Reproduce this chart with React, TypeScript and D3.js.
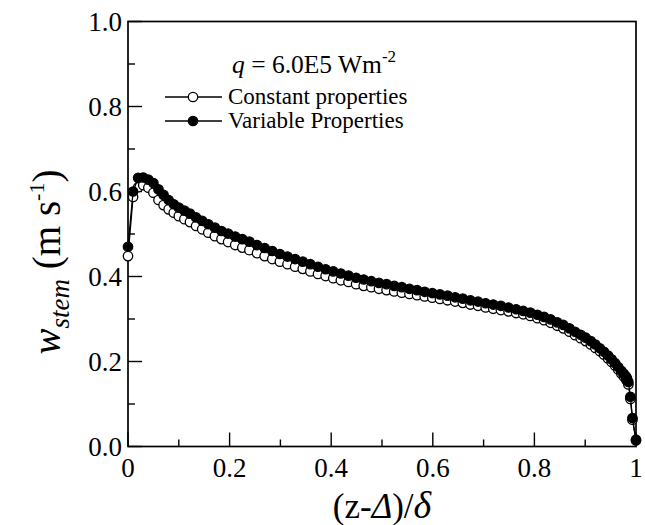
import React from "react";
import * as d3 from "d3";

// Constant properties series: [ (z-Δ)/δ , w_stem ]
const constantProps: [number, number][] = [
  [0, 0.448], [0.01, 0.587], [0.02, 0.61], [0.03, 0.615], [0.04, 0.609], [0.05, 0.597],
  [0.06, 0.58], [0.07, 0.568], [0.08, 0.558], [0.09, 0.55], [0.1, 0.542], [0.111, 0.535],
  [0.122, 0.528], [0.134, 0.519], [0.146, 0.511], [0.158, 0.503], [0.171, 0.495], [0.184, 0.488],
  [0.197, 0.481], [0.211, 0.474], [0.225, 0.468], [0.239, 0.462], [0.254, 0.455], [0.269, 0.448],
  [0.284, 0.441], [0.299, 0.435], [0.314, 0.429], [0.329, 0.423], [0.344, 0.418], [0.359, 0.412],
  [0.374, 0.406], [0.389, 0.401], [0.404, 0.396], [0.419, 0.391], [0.434, 0.387], [0.449, 0.382],
  [0.464, 0.378], [0.479, 0.375], [0.494, 0.371], [0.509, 0.368], [0.524, 0.365], [0.539, 0.362],
  [0.554, 0.359], [0.569, 0.356], [0.584, 0.353], [0.599, 0.35], [0.614, 0.347], [0.629, 0.344],
  [0.644, 0.341], [0.659, 0.338], [0.674, 0.334], [0.689, 0.331], [0.704, 0.327], [0.719, 0.324],
  [0.734, 0.321], [0.749, 0.318], [0.764, 0.314], [0.778, 0.311], [0.792, 0.307], [0.806, 0.302],
  [0.819, 0.297], [0.832, 0.291], [0.845, 0.284], [0.857, 0.278], [0.869, 0.27], [0.88, 0.262],
  [0.891, 0.255], [0.901, 0.248], [0.911, 0.24], [0.92, 0.232], [0.929, 0.224], [0.937, 0.216],
  [0.945, 0.207], [0.952, 0.199], [0.959, 0.19], [0.965, 0.181], [0.971, 0.172], [0.976, 0.165],
  [0.98, 0.159], [0.982, 0.155], [0.985, 0.146], [0.989, 0.112], [0.993, 0.063], [1.0, 0.014],
];

// Variable properties series
const variableProps: [number, number][] = [
  [0, 0.47], [0.01, 0.6], [0.02, 0.632], [0.03, 0.633], [0.04, 0.628], [0.05, 0.62],
  [0.06, 0.605], [0.07, 0.592], [0.08, 0.58], [0.09, 0.57], [0.1, 0.562], [0.111, 0.555],
  [0.122, 0.548], [0.134, 0.539], [0.146, 0.531], [0.158, 0.523], [0.171, 0.515], [0.184, 0.507],
  [0.197, 0.501], [0.211, 0.494], [0.225, 0.488], [0.239, 0.482], [0.254, 0.474], [0.269, 0.467],
  [0.284, 0.46], [0.299, 0.453], [0.314, 0.447], [0.329, 0.441], [0.344, 0.435], [0.359, 0.429],
  [0.374, 0.423], [0.389, 0.417], [0.404, 0.412], [0.419, 0.407], [0.434, 0.402], [0.449, 0.397],
  [0.464, 0.393], [0.479, 0.389], [0.494, 0.385], [0.509, 0.382], [0.524, 0.378], [0.539, 0.375],
  [0.554, 0.371], [0.569, 0.368], [0.584, 0.364], [0.599, 0.361], [0.614, 0.358], [0.629, 0.355],
  [0.644, 0.351], [0.659, 0.348], [0.674, 0.344], [0.689, 0.341], [0.704, 0.337], [0.719, 0.334],
  [0.734, 0.331], [0.749, 0.327], [0.764, 0.323], [0.778, 0.319], [0.792, 0.315], [0.806, 0.31],
  [0.819, 0.305], [0.832, 0.299], [0.845, 0.292], [0.857, 0.286], [0.869, 0.278], [0.88, 0.27],
  [0.891, 0.263], [0.901, 0.256], [0.911, 0.248], [0.92, 0.24], [0.929, 0.231], [0.937, 0.223],
  [0.945, 0.214], [0.952, 0.205], [0.959, 0.196], [0.965, 0.187], [0.971, 0.178], [0.976, 0.171],
  [0.98, 0.165], [0.982, 0.161], [0.985, 0.152], [0.989, 0.117], [0.993, 0.067], [1.0, 0.016],
];

const xMajorTicks = [0, 0.2, 0.4, 0.6, 0.8, 1];
const xTickLabels = ["0", "0.2", "0.4", "0.6", "0.8", "1"];
const xMinorTicks = [0.1, 0.3, 0.5, 0.7, 0.9];
const yMajorTicks = [0, 0.2, 0.4, 0.6, 0.8, 1];
const yTickLabels = ["0.0", "0.2", "0.4", "0.6", "0.8", "1.0"];
const yMinorTicks = [0.1, 0.3, 0.5, 0.7, 0.9];
const legendLabels = ["Constant properties", "Variable Properties"];

const W = 645;
const H = 525;
const L = 128, R = 636, T = 21.5, B = 446.5;
const FONT = "'Liberation Serif', 'Times New Roman', serif";

export default function App() {
  const x = d3.scaleLinear().domain([0, 1]).range([L, R]);
  const y = d3.scaleLinear().domain([0, 1]).range([B, T]);
  const line = d3
    .line<[number, number]>()
    .x((d) => x(d[0]))
    .y((d) => y(d[1]));

  const r = 4.7;

  return (
    <svg
      width={W}
      height={H}
      style={{ position: "absolute", left: 0, top: 0, background: "#fff" }}
      fontFamily={FONT}
    >
      <rect x={0} y={0} width={W} height={H} fill="#fff" />
      {/* frame */}
      <rect x={L} y={T} width={R - L} height={B - T} fill="none" stroke="#000" strokeWidth={1.7} />

      {/* x ticks */}
      {xMajorTicks.map((t) => (
        <line key={"xM" + t} x1={x(t)} x2={x(t)} y1={B} y2={B - 14} stroke="#000" strokeWidth={1.4} />
      ))}
      {xMinorTicks.map((t) => (
        <line key={"xm" + t} x1={x(t)} x2={x(t)} y1={B} y2={B - 7} stroke="#000" strokeWidth={1.4} />
      ))}
      {xMajorTicks.map((t, i) => (
        <text key={"xl" + t} x={x(t)} y={477} textAnchor="middle" fontSize={27}>
          {xTickLabels[i]}
        </text>
      ))}

      {/* y ticks */}
      {yMajorTicks.map((t) => (
        <line key={"yM" + t} x1={L} x2={L + 14} y1={y(t)} y2={y(t)} stroke="#000" strokeWidth={1.4} />
      ))}
      {yMinorTicks.map((t) => (
        <line key={"ym" + t} x1={L} x2={L + 7} y1={y(t)} y2={y(t)} stroke="#000" strokeWidth={1.4} />
      ))}
      {yMajorTicks.map((t, i) => (
        <text key={"yl" + t} x={122} y={y(t) + 9} textAnchor="end" fontSize={27}>
          {yTickLabels[i]}
        </text>
      ))}

      {/* constant properties */}
      <path d={line(constantProps) || ""} fill="none" stroke="#000" strokeWidth={1.3} />
      {constantProps.map((d, i) => (
        <circle key={"c" + i} cx={x(d[0])} cy={y(d[1])} r={r} fill="#fff" stroke="#000" strokeWidth={1.3} />
      ))}

      {/* variable properties */}
      <path d={line(variableProps) || ""} fill="none" stroke="#000" strokeWidth={1.3} />
      {variableProps.map((d, i) => (
        <circle key={"v" + i} cx={x(d[0])} cy={y(d[1])} r={r} fill="#000" stroke="#000" strokeWidth={1.3} />
      ))}

      {/* legend */}
      <text x={232} y={73} fontSize={25.5}>
        <tspan fontStyle="italic">q</tspan>
        <tspan> = 6.0E5 Wm</tspan>
        <tspan fontSize={17} dy={-11}>-2</tspan>
      </text>
      {legendLabels.map((lab, i) => {
        const ly = 97 + i * 24;
        return (
          <g key={"lg" + i}>
            <line x1={165} x2={222} y1={ly} y2={ly} stroke="#000" strokeWidth={1.3} />
            <circle
              cx={193}
              cy={ly}
              r={r}
              fill={i === 0 ? "#fff" : "#000"}
              stroke="#000"
              strokeWidth={1.3}
            />
            <text x={228} y={ly + 7} fontSize={23}>
              {lab}
            </text>
          </g>
        );
      })}

      {/* x axis title */}
      <text x={382} y={518} textAnchor="middle" fontSize={35}>
        <tspan>(z-</tspan>
        <tspan fontStyle="italic">Δ</tspan>
        <tspan>)/</tspan>
        <tspan fontStyle="italic" fontSize={38}>δ</tspan>
      </text>

      {/* y axis title */}
      <text transform="translate(60,262) rotate(-90)" textAnchor="middle" fontSize={39}>
        <tspan fontStyle="italic">w</tspan>
        <tspan fontStyle="italic" fontSize={27} dy={9}>stem</tspan>
        <tspan dy={-9}> (m s</tspan>
        <tspan fontSize={22} dy={-16}>-1</tspan>
        <tspan dy={16}>)</tspan>
      </text>
    </svg>
  );
}
